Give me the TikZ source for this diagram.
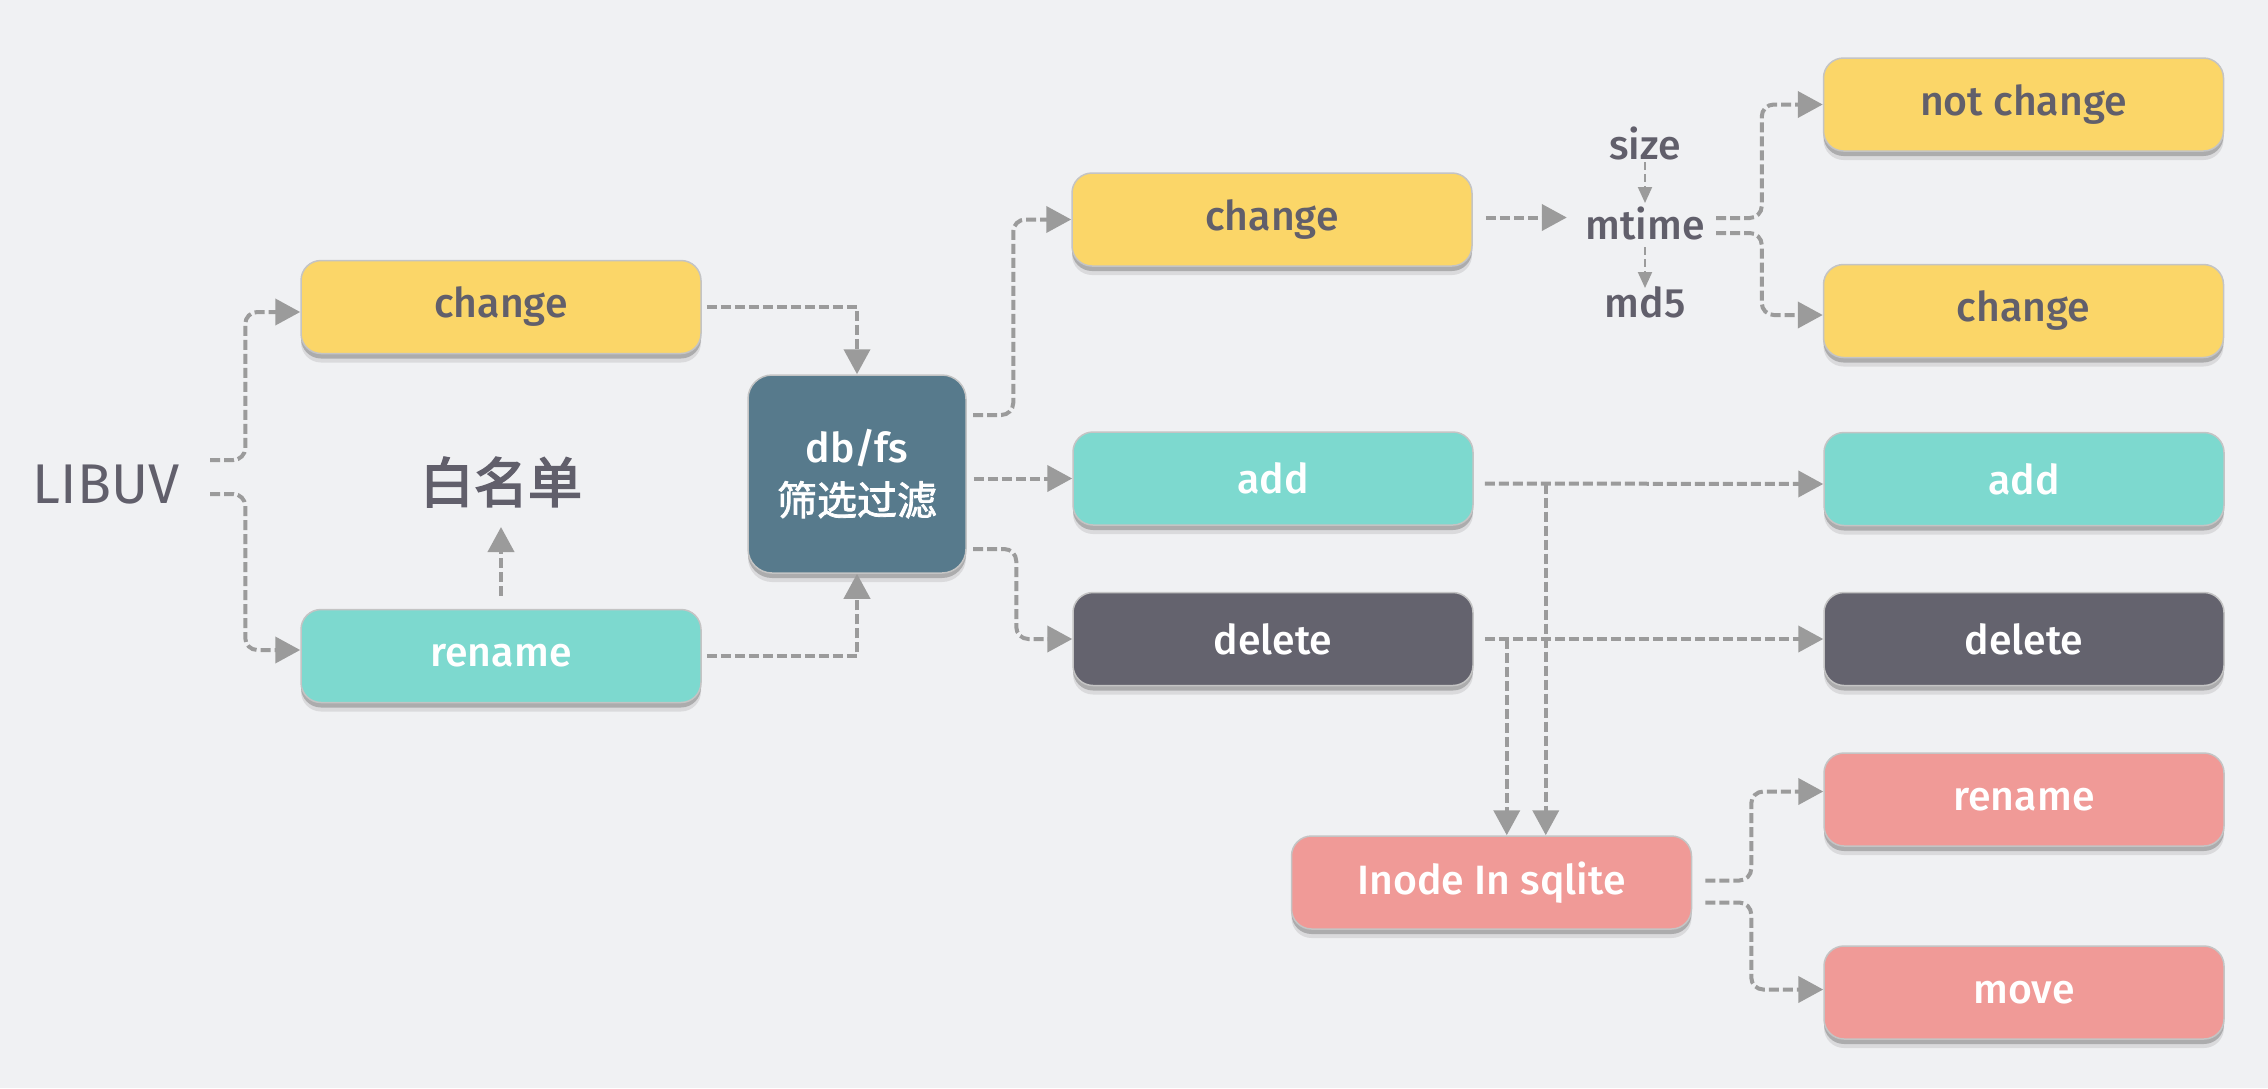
\documentclass[tikz,border=0pt]{standalone}
\usepackage{fontspec}
\setmainfont{Fira Sans}
\newfontfamily\med{Fira Sans}[UprightFont=* Medium]
\newfontfamily\cjkA{Noto Sans CJK SC}[FakeBold=3]
\newfontfamily\cjkB{Noto Sans CJK SC}[FakeBold=2]
\usetikzlibrary{arrows.meta,shadows,calc}
\definecolor{bgc}{HTML}{F0F1F3}
\definecolor{yel}{HTML}{FBD668}
\definecolor{tea}{HTML}{7DD9CF}
\definecolor{drk}{HTML}{64636E}
\definecolor{dbc}{HTML}{577A8C}
\definecolor{pnk}{HTML}{F09A97}
\definecolor{txt}{HTML}{615F6B}
\definecolor{arr}{HTML}{9B9B9B}
\definecolor{boxline}{HTML}{C4C4C4}
\begin{document}
\begin{tikzpicture}[x=1pt,y=-1pt,
  box/.style={rounded corners=20pt, draw=boxline, line width=1.5pt,
    minimum width=400pt, minimum height=93pt, inner sep=0pt,
    font=\med\fontsize{41}{50}\selectfont,
    general shadow={fill=black!40, opacity=.25, shadow yshift=-9pt},
    general shadow={fill=black!50, opacity=.5, shadow yshift=-5pt}},
  yelbox/.style={box, fill=yel, text=txt},
  teabox/.style={box, fill=tea, text=white},
  drkbox/.style={box, fill=drk, text=white},
  pnkbox/.style={box, fill=pnk, text=white},
  lbl/.style={text=txt, inner sep=0pt, font=\med\fontsize{41}{50}\selectfont},
  conn/.style={draw=arr, line width=4pt, dash pattern=on 10pt off 4pt,
    -{Triangle[length=25pt,width=26pt]}},
  thinconn/.style={draw=arr, line width=2pt, dash pattern=on 8pt off 4pt,
    -{Triangle[length=16pt,width=14pt]}},
  rc/.style={rounded corners=12pt}]
\fill[bgc] (0,0) rectangle (2268,1088);
\useasboundingbox (0,0) rectangle (2268,1088);

% nodes
\node[lbl, font=\fontsize{56}{60}\selectfont] (libuv) at (106,485) {LIBUV};
\node[yelbox] (ch1) at (501,307) {change};
\node[teabox] (rn1) at (501,656) {rename};
\node[lbl, font=\cjkA\fontsize{54}{60}\selectfont] (wl) at (501,482) {白名单};
\node[box, fill=dbc, text=white, minimum width=218pt, minimum height=198pt,
  align=center, rounded corners=24pt] (db) at (857,474)
  {db/fs\\[2pt]{\cjkB\fontsize{40}{48}\selectfont 筛选过滤}};
\node[yelbox] (ch2) at (1272,219.5) {change};
\node[teabox] (add2) at (1273,478.5) {add};
\node[drkbox] (del2) at (1273,639) {delete};
\node[lbl] (sz) at (1645,143) {size};
\node[lbl, minimum width=130pt] (mt) at (1645,223) {mtime};
\node[lbl] (md) at (1645,302) {md5};
\node[yelbox] (nc) at (2023.5,104.5) {not change};
\node[yelbox] (ch3) at (2023.5,311) {change};
\node[teabox] (add3) at (2024,479) {add};
\node[drkbox] (del3) at (2024,639) {delete};
\node[pnkbox] (rn3) at (2024,799.5) {rename};
\node[pnkbox] (mv) at (2024,992.5) {move};
\node[pnkbox] (ino) at (1491.5,882.5) {Inode In sqlite};

% connectors
\draw[conn,rc] ($(libuv)+(104,-25)$) -| ($(ch1.west)+(-55,5)$) -- ($(ch1.west)+(0,5)$);
\draw[conn,rc] ($(libuv)+(104,9)$) -| ($(rn1.west)+(-55,-6)$) -- ($(rn1.west)+(0,-6)$);
\draw[conn] ($(rn1.north)+(0,-13)$) -- ($(wl)+(0,45)$);
\draw[conn] ($(ch1.east)+(5,0)$) -| (db.north);
\draw[conn] ($(rn1.east)+(5,0)$) -| (db.south);
\draw[conn,rc] ($(db.center)+(116,-59)$) -| ($(ch2.west)+(-58,0)$) -- (ch2.west);
\draw[conn] ($(db.east |- add2.west)+(7,0)$) -- (add2.west);
\draw[conn,rc] ($(db.center)+(116,75)$) -| ($(del2.west)+(-56,0)$) -- (del2.west);
\draw[conn] ($(ch2.east)+(13,-2)$) -- ($(mt.west |- ch2.east)+(-13,-2)$);
\draw[thinconn] ($(sz)+(0,19)$) -- ($(mt)+(0,-20)$);
\draw[thinconn] ($(mt)+(0,24)$) -- ($(md)+(0,-14)$);
\draw[conn,rc] ($(mt)+(71,-5)$) -| ($(nc.west)+(-61,0)$) -- (nc.west);
\draw[conn,rc] ($(mt)+(71,10)$) -| ($(ch3.west)+(-61,4)$) -- ($(ch3.west)+(0,4)$);
\draw[conn] ($(add2.east)+(11,5)$) -- ($(add3.west)+(0,5)$);
\coordinate (j1) at ($(add2.east)+(72,5)$);
\draw[conn] (j1) -- (j1 |- ino.north);
\draw[conn] ($(del2.east)+(11,0)$) -- (del3.west);
\coordinate (j2) at ($(del2.east)+(33,0)$);
\draw[conn] (j2) -- (j2 |- ino.north);
\draw[conn,rc] ($(ino.east)+(13,-2)$) -| ($(rn3.west)+(-72,-8)$) -- ($(rn3.west)+(0,-8)$);
\draw[conn,rc] ($(ino.east)+(13,20)$) -| ($(mv.west)+(-72,-3)$) -- ($(mv.west)+(0,-3)$);
\end{tikzpicture}
\end{document}
